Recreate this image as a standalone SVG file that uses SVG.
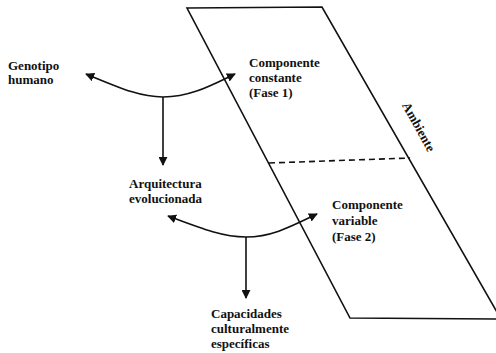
<svg xmlns="http://www.w3.org/2000/svg" width="496" height="353" viewBox="0 0 496 353">
<style>
text{font-family:"Liberation Serif","DejaVu Serif","Times New Roman",serif;font-weight:bold;font-size:13px;fill:#111}
.ln{fill:none;stroke:#111;stroke-width:1.6}
.dash{fill:none;stroke:#111;stroke-width:1.6;stroke-dasharray:6 4}
</style>
<defs>
<marker id="ah" viewBox="0 0 10 10" refX="9" refY="5" markerWidth="9" markerHeight="9" markerUnits="userSpaceOnUse" orient="auto-start-reverse">
<path d="M0,0 L10,5 L0,10 z" fill="#111"/>
</marker>
</defs>
<g id="ambiente">
<path class="ln" d="M187,8 L322,7 L501,319 L350,318 Z"/>
<path class="dash" d="M269,163 L410,158"/>
<text transform="translate(415,129) rotate(61)" text-anchor="middle">Ambiente</text>
</g>
<g id="connectors">
<path class="ln" d="M86,74 C120,88 140,97 163,97 C190,97 210,86 235,74" marker-start="url(#ah)" marker-end="url(#ah)"/>
<path class="ln" d="M163,97 L163,165" marker-end="url(#ah)"/>
<path class="ln" d="M168,216 C200,228 222,237 246,237 C272,237 292,226 317,214" marker-start="url(#ah)" marker-end="url(#ah)"/>
<path class="ln" d="M246,237 L246,298" marker-end="url(#ah)"/>
</g>
<g id="genotipo"><text x="8" y="70">Genotipo</text><text x="8" y="84">humano</text></g>
<g id="constante"><text x="249" y="67">Componente</text><text x="249" y="82">constante</text><text x="249" y="97">(Fase 1)</text></g>
<g id="arquitectura"><text x="129" y="188">Arquitectura</text><text x="129" y="203">evolucionada</text></g>
<g id="variable"><text x="332" y="209">Componente</text><text x="332" y="225">variable</text><text x="332" y="241">(Fase 2)</text></g>
<g id="capacidades"><text x="211" y="318">Capacidades</text><text x="211" y="333">culturalmente</text><text x="211" y="348">específicas</text></g>
</svg>
